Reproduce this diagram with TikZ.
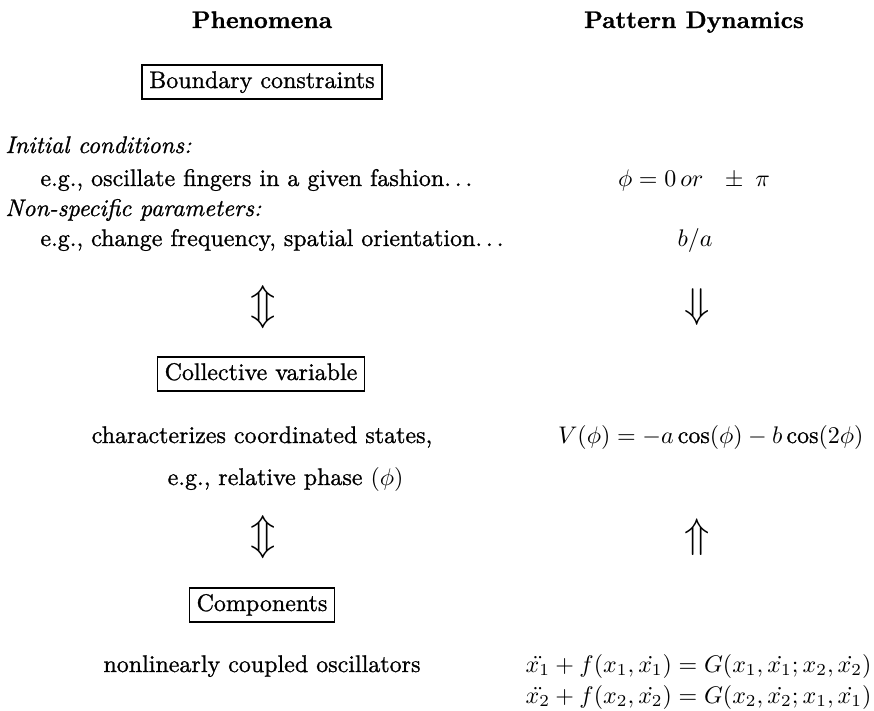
\documentclass[tikz,border=0pt]{standalone}
\usepackage{amsmath}
\usepackage{fontspec}
\setmainfont{Latin Modern Roman}[FakeBold=1.0]
\newcommand{\mydots}{.\kern\fontdimen3\font.\kern\fontdimen3\font.}
\begin{document}
\begin{tikzpicture}[x=0.4167pt,y=-0.4167pt,
  heading/.style={font=\bfseries, anchor=base, inner sep=0pt},
  txt/.style={anchor=base west, inner sep=0pt},
  ctxt/.style={anchor=base, inner sep=0pt},
  boxed/.style={draw, line width=0.55pt, inner xsep=3pt, inner ysep=2.6pt, text height=6.94pt, text depth=1.94pt},
  bigarrow/.style={font=\LARGE, inner sep=0pt}]
\useasboundingbox (0,0) rectangle (874,711);
% headings
\node[heading] (hphen) at (262,28) {Phenomena};
\node[heading] (hpat) at (694,28) {Pattern Dynamics};
% boundary constraints
\node[boxed] (bc) at (262,82) {Boundary constraints};
\node[txt] (ic) at (5,153) {\textit{Initial conditions:}};
\node[txt] (icx) at (40,186) {e.g., oscillate fingers in a given fashion\mydots};
\node[txt] (nsp) at (5,216) {\textit{Non-specific parameters:}};
\node[txt] (nspx) at (40,246) {e.g., change frequency, spatial orientation\mydots};
\node[ctxt] (phi0) at (694,186) {$\phi = 0\,or\ \ \pm\;\pi$};
\node[ctxt] (ba) at (695,246) {$b/a$};
% arrows
\node[bigarrow] (a1) at (263,307) {$\Updownarrow$};
\node[bigarrow] (a2) at (697,307) {$\Downarrow$};
% collective variable
\node[boxed] (cv) at (261,374) {Collective variable};
\node[ctxt] (ch1) at (262,443) {characterizes coordinated states,};
\node[anchor=base east, inner sep=0pt] (ch2) at (404,485) {e.g., relative phase $(\phi)$};
\node[anchor=base east, inner sep=0pt] (veq) at (864,443) {$V(\phi) = -a\cos(\phi) - b\cos(2\phi)$};
% arrows
\node[bigarrow] (a3) at (263,537) {$\Updownarrow$};
\node[bigarrow] (a4) at (697,537) {$\Uparrow$};
% components
\node[boxed] (comp) at (262,605) {Components};
\node[ctxt] (nl) at (262,672) {nonlinearly coupled oscillators};
\node[anchor=base east, inner sep=0pt] (eq1) at (872,672) {$\ddot{x_1} + f(x_1,\dot{x_1}) = G(x_1,\dot{x_1};x_2,\dot{x_2})$};
\node[anchor=base west, inner sep=0pt] (eq2) at ([yshift=-31*0.4167pt]eq1.base west) {$\ddot{x_2} + f(x_2,\dot{x_2}) = G(x_2,\dot{x_2};x_1,\dot{x_1})$};
\end{tikzpicture}
\end{document}
